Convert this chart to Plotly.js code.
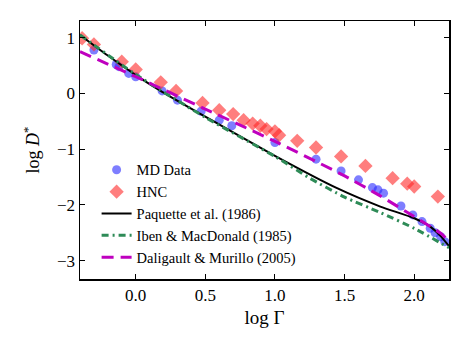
<!DOCTYPE html>
<html>
<head>
<meta charset="utf-8">
<script src="https://cdn.plot.ly/plotly-3.0.1.min.js"></script>
<style>html,body{margin:0;padding:0;background:#fff;}#plot{width:469px;height:352px;}</style>
</head>
<body>
<div id="plot"></div>
<script>
// MD data (blue circles)
const mdX = [-0.30, -0.14, -0.12, -0.05, 0.0, 0.19, 0.30, 0.47, 0.60, 0.69, 1.0, 1.295, 1.475, 1.60, 1.70, 1.74, 1.78, 1.905, 1.99, 2.056, 2.115, 2.15, 2.19, 2.22];
const mdY = [0.78, 0.52, 0.48, 0.36, 0.30, 0.045, -0.12, -0.32, -0.48, -0.58, -0.88, -1.18, -1.39, -1.55, -1.69, -1.73, -1.79, -2.02, -2.18, -2.30, -2.42, -2.50, -2.57, -2.66];
// HNC (red diamonds)
const hncX = [-0.385, -0.30, -0.10, 0.0, 0.18, 0.29, 0.48, 0.60, 0.70, 0.775, 0.84, 0.895, 0.94, 1.0, 1.03, 1.16, 1.295, 1.475, 1.65, 1.845, 1.95, 2.0, 2.17];
const hncY = [0.99, 0.88, 0.57, 0.43, 0.20, 0.045, -0.17, -0.30, -0.37, -0.48, -0.54, -0.58, -0.64, -0.68, -0.75, -0.85, -0.97, -1.13, -1.30, -1.52, -1.62, -1.67, -1.85];
// Paquette et al. (1986)
const paqX = [-0.4, -0.2, 0.0, 0.19, 0.545, 1.0, 1.446, 1.757, 2.0, 2.115, 2.19, 2.25];
const paqY = [1.05, 0.68, 0.33, 0.03, -0.48, -1.12, -1.70, -2.03, -2.24, -2.39, -2.56, -2.74];
// Iben & MacDonald (1985)
const ibenX = [-0.4, 0.0, 0.5, 1.0, 1.25, 1.5, 1.75, 2.0, 2.25];
const ibenY = [1.05, 0.34, -0.43, -1.13, -1.52, -1.86, -2.13, -2.42, -2.77];
// Daligault & Murillo (2005)
const dmX = [-0.4, 0.0, 0.5, 1.0, 1.5, 1.75, 2.0, 2.19, 2.25];
const dmY = [0.75, 0.30, -0.28, -0.86, -1.48, -1.83, -2.21, -2.51, -2.65];

const xTicks = [0.0, 0.5, 1.0, 1.5, 2.0];
const yTicks = [-3, -2, -1, 0, 1];

const FONT = "'Liberation Serif', 'DejaVu Serif', serif";

const traces = [
  {x: mdX, y: mdY, mode: 'markers', name: 'MD Data',
   marker: {symbol: 'circle', size: 9, color: 'rgba(40,40,255,0.6)', line: {width: 0}}},
  {x: hncX, y: hncY, mode: 'markers', name: 'HNC',
   marker: {symbol: 'diamond', size: 11, color: 'rgba(255,40,40,0.6)', line: {width: 0}}},
  {x: paqX, y: paqY, mode: 'lines', name: 'Paquette et al. (1986)',
   line: {color: '#000000', width: 2, shape: 'spline', smoothing: 0.6}},
  {x: ibenX, y: ibenY, mode: 'lines', name: 'Iben &amp; MacDonald (1985)',
   line: {color: '#2e8b57', width: 3, dash: '7px,4px,2px,4px', shape: 'spline', smoothing: 0.6}},
  {x: dmX, y: dmY, mode: 'lines', name: 'Daligault &amp; Murillo (2005)',
   line: {color: '#bf00bf', width: 3, dash: '12px,7px', shape: 'spline', smoothing: 0.6}}
];

const layout = {
  width: 469, height: 352,
  margin: {l: 80, r: 20, t: 21, b: 73},
  paper_bgcolor: '#fff', plot_bgcolor: '#fff',
  font: {family: FONT, color: '#000', size: 16},
  showlegend: true,
  legend: {x: 0.045, y: 0.485, xanchor: 'left', yanchor: 'top', bgcolor: 'rgba(0,0,0,0)',
           font: {family: FONT, size: 14.5}, tracegroupgap: 0},
  xaxis: {range: [-0.4, 2.25], tickvals: xTicks, ticktext: xTicks.map(v => v.toFixed(1)),
          ticks: 'inside', ticklen: 5, tickwidth: 1, tickcolor: '#000',
          showline: true, linecolor: '#000', linewidth: 1.5, mirror: 'ticks',
          showgrid: false, zeroline: false,
          tickfont: {family: FONT, size: 17},
          title: {text: 'log Γ', font: {family: FONT, size: 19}, standoff: 7}},
  yaxis: {range: [-3.33, 1.3], tickvals: yTicks,
          ticks: 'inside', ticklen: 5, tickwidth: 1, tickcolor: '#000',
          showline: true, linecolor: '#000', linewidth: 1.5, mirror: 'ticks',
          showgrid: false, zeroline: false,
          tickfont: {family: FONT, size: 17},
          title: {text: 'log <i>D</i><sup>*</sup>', font: {family: FONT, size: 18}, standoff: 12}}
};

Plotly.newPlot('plot', traces, layout, {displayModeBar: false, staticPlot: true});
</script>
</body>
</html>
